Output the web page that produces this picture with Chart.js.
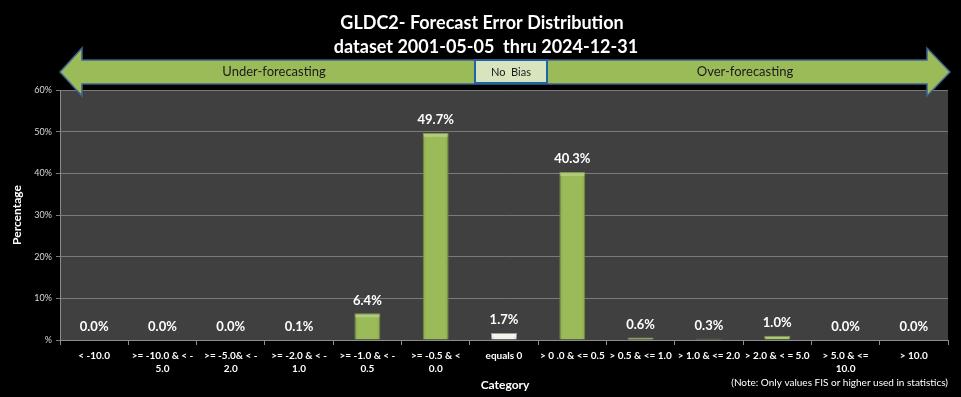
<!DOCTYPE html>
<html>
<head>
<meta charset="utf-8">
<script src="https://cdn.jsdelivr.net/npm/chart.js@4/dist/chart.umd.min.js"></script>
<style>
  html, body { margin: 0; padding: 0; background: #000; }
  #wrap { width: 961px; height: 397px; }
</style>
</head>
<body>
<div id="wrap"><canvas id="c" width="961" height="397"></canvas></div>
<script>
const categories = [
  "< -10.0",
  [">= -10.0 & < -", "5.0"],
  [">= -5.0& < -", "2.0"],
  [">= -2.0 & < -", "1.0"],
  [">= -1.0 & < -", "0.5"],
  [">= -0.5 & <", "0.0"],
  "equals 0",
  "> 0 .0 & <= 0.5",
  "> 0.5 & <= 1.0",
  "> 1.0 & <= 2.0",
  "> 2.0 & < = 5.0",
  ["> 5.0 & <=", "10.0"],
  "> 10.0"
];
const values = [0.0, 0.0, 0.0, 0.1, 6.4, 49.7, 1.7, 40.3, 0.6, 0.3, 1.0, 0.0, 0.0];
const yTickValues = [0, 10, 20, 30, 40, 50, 60];
const titleLines = ["GLDC2- Forecast Error Distribution", "dataset 2001-05-05  thru 2024-12-31"];
const arrowLeftText = "Under-forecasting";
const arrowMidText = "No  Bias";
const arrowRightText = "Over-forecasting";
const xTitle = "Category";
const yTitle = "Percentage";
const noteText = "(Note: Only values FIS or higher used in statistics)";

const GREEN = "#9BBB59";
const WHITE_BAR = "#F2F2EC";
const barColors = categories.map((c) => (c === "equals 0" ? WHITE_BAR : GREEN));
const barBorders = categories.map((c) => (c === "equals 0" ? "#9AA48A" : "#7E9A45"));

const decor = {
  id: "decor",
  beforeDraw(chart) {
    const ctx = chart.ctx, a = chart.chartArea;
    ctx.save();
    ctx.fillStyle = "#000";
    ctx.fillRect(0, 0, chart.width, chart.height);
    ctx.fillStyle = "#404040";
    ctx.fillRect(a.left, a.top, a.right - a.left, a.bottom - a.top);
    ctx.restore();
  },
  afterDatasetsDraw(chart) {
    const ctx = chart.ctx;
    const meta = chart.getDatasetMeta(0);
    ctx.save();
    meta.data.forEach((bar, i) => {
      const h = bar.base - bar.y;
      const w = bar.width;
      const x0 = bar.x - w / 2;
      if (h > 1.5) {
        const bh = Math.min(3, h / 2);
        ctx.fillStyle = "rgba(255,255,255,0.22)";
        ctx.fillRect(x0 + 1, bar.y + 1, w - 2, bh);
        const g = ctx.createLinearGradient(x0, 0, x0 + w, 0);
        g.addColorStop(0, "rgba(0,0,0,0.10)");
        g.addColorStop(0.15, "rgba(0,0,0,0)");
        g.addColorStop(0.85, "rgba(0,0,0,0)");
        g.addColorStop(1, "rgba(0,0,0,0.10)");
        ctx.fillStyle = g;
        ctx.fillRect(x0, bar.y + bh + 1, w, h - bh - 1);
      }
      ctx.fillStyle = "#FFFFFF";
      ctx.font = "bold 13px Lato, 'Open Sans', sans-serif";
      ctx.textAlign = "center";
      ctx.textBaseline = "middle";
      ctx.fillText(values[i].toFixed(1) + "%", bar.x, bar.y - 13);
    });
    ctx.restore();
  },
  afterDraw(chart) {
    const ctx = chart.ctx;
    ctx.save();
    ctx.fillStyle = "#FFFFFF";
    ctx.textAlign = "center";
    ctx.textBaseline = "middle";
    ctx.font = "bold 18px Lato, 'Open Sans', sans-serif";
    ctx.fillText(titleLines[0], 482, 23);
    ctx.fillText(titleLines[1], 486, 47);

    const tipL = 60, tipR = 950, baseL = 82, baseR = 927, cy = 72;
    const headT = 48, headB = 96, shT = 60, shB = 84;
    ctx.beginPath();
    ctx.moveTo(tipL, cy);
    ctx.lineTo(baseL, headT);
    ctx.lineTo(baseL, shT);
    ctx.lineTo(baseR, shT);
    ctx.lineTo(baseR, headT);
    ctx.lineTo(tipR, cy);
    ctx.lineTo(baseR, headB);
    ctx.lineTo(baseR, shB);
    ctx.lineTo(baseL, shB);
    ctx.lineTo(baseL, headB);
    ctx.closePath();
    ctx.fillStyle = GREEN;
    ctx.fill();
    ctx.lineWidth = 1.5;
    ctx.strokeStyle = "#3F6290";
    ctx.stroke();

    ctx.fillStyle = "#D7E4BD";
    ctx.fillRect(475, 60, 72, 23);
    ctx.lineWidth = 2;
    ctx.strokeStyle = "#1E64A8";
    ctx.strokeRect(475, 60, 72, 23);

    ctx.fillStyle = "#1a1a1a";
    ctx.font = "13px Lato, 'Open Sans', sans-serif";
    ctx.fillText(arrowLeftText, 274, 72);
    ctx.fillText(arrowRightText, 745, 72);
    ctx.font = "11px Lato, 'Open Sans', sans-serif";
    ctx.fillText(arrowMidText, 511, 72);

    ctx.fillStyle = "#FFFFFF";
    ctx.font = "bold 12px Lato, 'Open Sans', sans-serif";
    ctx.fillText(xTitle, 505, 385);
    ctx.save();
    ctx.translate(17, 215);
    ctx.rotate(-Math.PI / 2);
    ctx.fillText(yTitle, 0, 0);
    ctx.restore();

    ctx.font = "10px Lato, 'Open Sans', sans-serif";
    ctx.textAlign = "right";
    ctx.fillStyle = "#FFFFFF";
    ctx.fillText(noteText, 948, 383);
    ctx.restore();
  }
};

new Chart(document.getElementById("c"), {
  type: "bar",
  data: {
    labels: categories,
    datasets: [{
      data: values,
      backgroundColor: barColors,
      borderColor: barBorders,
      borderWidth: 1,
      barPercentage: 0.38,
      categoryPercentage: 1.0
    }]
  },
  options: {
    responsive: false,
    animation: false,
    devicePixelRatio: 1,
    layout: { padding: { top: 90, right: 13, left: 0, bottom: 0 } },
    plugins: {
      legend: { display: false },
      title: { display: false },
      tooltip: { enabled: false }
    },
    scales: {
      x: {
        grid: {
          display: true,
          drawOnChartArea: false,
          drawTicks: true,
          tickLength: 5,
          color: "#8C8C8C",
          offset: true
        },
        border: { color: "#8C8C8C", width: 1 },
        ticks: {
          color: "#FFFFFF",
          font: { family: "Lato, 'Open Sans', sans-serif", size: 10, weight: "bold", lineHeight: 1.3 },
          autoSkip: false,
          maxRotation: 0,
          minRotation: 0,
          padding: 4
        },
        afterFit(scale) { scale.height = 57; }
      },
      y: {
        min: 0,
        max: 60,
        afterBuildTicks(scale) { scale.ticks = yTickValues.map(v => ({ value: v })); },
        grid: {
          color: "#7A7A7A",
          lineWidth: 1,
          drawTicks: true,
          tickLength: 4
        },
        border: { color: "#8C8C8C", width: 1 },
        ticks: {
          color: "#D9D9D9",
          font: { family: "Lato, 'Open Sans', sans-serif", size: 9 },
          padding: 4,
          callback: (v) => (v === 0 ? "%" : v + "%")
        },
        afterFit(scale) { scale.width = 60; }
      }
    }
  },
  plugins: [decor]
});
</script>
</body>
</html>
